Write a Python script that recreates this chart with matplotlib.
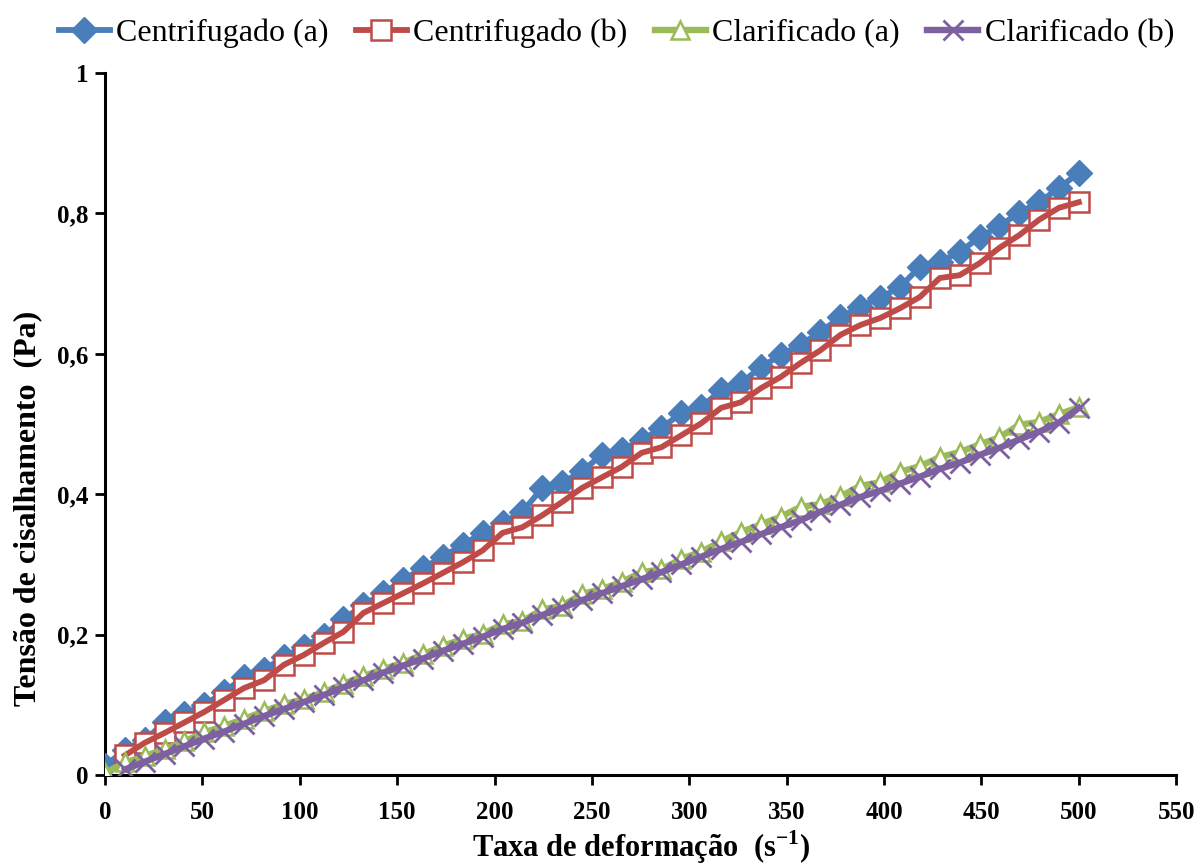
import matplotlib
matplotlib.use("Agg")
import matplotlib.pyplot as plt
from matplotlib.ticker import FuncFormatter

# Shear rate values (s^-1)
x_a = [0.0, 10.2, 20.4, 30.6, 40.8, 51.0, 61.2, 71.4, 81.6, 91.8,
       102.0, 112.2, 122.4, 132.7, 142.9, 153.1, 163.3, 173.5, 183.7, 193.9,
       204.1, 214.3, 224.5, 234.7, 244.9, 255.1, 265.3, 275.5, 285.7, 295.9,
       306.1, 316.3, 326.5, 336.7, 346.9, 357.1, 367.3, 377.6, 387.8, 398.0,
       408.2, 418.4, 428.6, 438.8, 449.0, 459.2, 469.4, 479.6, 489.8, 500.0]
x_b = x_a[1:]

# Shear stress (Pa)
centrifugado_a = [0.013, 0.036, 0.050, 0.075, 0.087, 0.100, 0.118, 0.140, 0.150, 0.168,
                  0.183, 0.198, 0.222, 0.242, 0.259, 0.278, 0.295, 0.311, 0.328, 0.345,
                  0.359, 0.375, 0.409, 0.416, 0.433, 0.456, 0.463, 0.477, 0.494, 0.516,
                  0.524, 0.548, 0.558, 0.581, 0.598, 0.613, 0.631, 0.652, 0.667, 0.680,
                  0.695, 0.724, 0.731, 0.745, 0.766, 0.782, 0.801, 0.816, 0.836, 0.858]
centrifugado_b = [0.028, 0.046, 0.060, 0.075, 0.090, 0.107, 0.124, 0.135, 0.157,
                  0.171, 0.188, 0.204, 0.231, 0.245, 0.259, 0.273, 0.288, 0.303, 0.320,
                  0.345, 0.353, 0.370, 0.389, 0.409, 0.424, 0.439, 0.459, 0.467, 0.484,
                  0.501, 0.523, 0.531, 0.551, 0.567, 0.587, 0.605, 0.627, 0.641, 0.651,
                  0.665, 0.681, 0.708, 0.712, 0.729, 0.751, 0.769, 0.791, 0.808, 0.816]
clarificado_a = [0.003, 0.018, 0.027, 0.037, 0.048, 0.061, 0.070, 0.080, 0.091, 0.101,
                 0.108, 0.118, 0.130, 0.141, 0.151, 0.160, 0.172, 0.184, 0.194, 0.201,
                 0.215, 0.219, 0.236, 0.241, 0.258, 0.265, 0.275, 0.289, 0.293, 0.308,
                 0.318, 0.333, 0.346, 0.357, 0.368, 0.382, 0.386, 0.397, 0.412, 0.417,
                 0.432, 0.440, 0.453, 0.460, 0.471, 0.481, 0.499, 0.503, 0.514, 0.524]
clarificado_b = [0.008, 0.019, 0.030, 0.041, 0.052, 0.062, 0.073, 0.084, 0.094,
                 0.104, 0.114, 0.125, 0.135, 0.146, 0.156, 0.166, 0.177, 0.187, 0.197,
                 0.208, 0.217, 0.228, 0.238, 0.249, 0.259, 0.269, 0.279, 0.289, 0.300,
                 0.311, 0.322, 0.332, 0.343, 0.353, 0.363, 0.375, 0.385, 0.396, 0.405,
                 0.415, 0.425, 0.436, 0.445, 0.456, 0.466, 0.478, 0.489, 0.502, 0.523]

series_names = ["Centrifugado (a)", "Centrifugado (b)", "Clarificado (a)", "Clarificado (b)"]
x_ticks = [0, 50, 100, 150, 200, 250, 300, 350, 400, 450, 500, 550]
y_ticks = [0, 0.2, 0.4, 0.6, 0.8, 1.0]

plt.rcParams['font.family'] = ['Liberation Serif', 'DejaVu Serif']
plt.rcParams['mathtext.fontset'] = 'custom'
plt.rcParams['mathtext.rm'] = 'Liberation Serif'
plt.rcParams['mathtext.bf'] = 'Liberation Serif:bold'

fig = plt.figure(figsize=(11.99, 8.66), dpi=100)
ax = fig.add_axes([0.0876, 0.105, 0.8934, 0.8107])

blue = '#4A7EBB'
red = '#BE4B48'
green = '#9BBB59'
purple = '#7D60A0'

sty_a = dict(color=blue, lw=4.2, marker='D', ms=13, mfc=blue, mec=blue)
sty_b = dict(color=red, lw=4.2, marker='s', ms=15, mfc='white', mec=red, mew=1.8)
sty_c = dict(color=green, lw=4.6, marker='^', ms=13, mfc='white', mec=green, mew=1.8)
sty_d = dict(color=purple, lw=4.6, marker='x', ms=14, mec=purple, mew=2.0)

ax.plot(x_a, centrifugado_a, zorder=3, **sty_a)
ax.plot(x_b, centrifugado_b, color=red, lw=0, marker='s', ms=15,
        mfc='white', mec=red, mew=1.8, zorder=4)
ax.plot(x_b, centrifugado_b, color=red, lw=4.2, zorder=5)
ax.plot(x_a, clarificado_a, zorder=6, **sty_c)
ax.plot(x_b, clarificado_b, zorder=7, **sty_d)

# legend handles
h1, = ax.plot([], [], **sty_a)
h2, = ax.plot([], [], **sty_b)
h3, = ax.plot([], [], **sty_c)
h4, = ax.plot([], [], **sty_d)
fig.legend([h1, h2, h3, h4], series_names, loc='upper center',
           bbox_to_anchor=(0.514, 1.012), ncol=4, frameon=False,
           fontsize=23, handlelength=1.6, handletextpad=0.2, columnspacing=0.85)

ax.set_xlim(0, 550)
ax.set_ylim(0, 1)
ax.set_xticks(x_ticks)
ax.set_yticks(y_ticks)
ax.yaxis.set_major_formatter(FuncFormatter(
    lambda v, p: ('%g' % round(v, 1)).replace('.', ',')))
for lab in ax.get_xticklabels() + ax.get_yticklabels():
    lab.set_fontweight('bold')
ax.tick_params(axis='both', labelsize=18, width=2, length=7, direction='out')
ax.tick_params(axis='x', pad=12)
ax.tick_params(axis='y', pad=5)
for s in ['top', 'right']:
    ax.spines[s].set_visible(False)
for s in ['left', 'bottom']:
    ax.spines[s].set_linewidth(2.2)

ax.set_xlabel('Taxa de deformação  (s$^{\\mathbf{-1}}$)', fontsize=22, fontweight='bold')
ax.xaxis.set_label_coords(0.5, -0.076)
ax.set_ylabel('Tensão de cisalhamento  (Pa)', fontsize=23, fontweight='bold')
ax.yaxis.set_label_coords(-0.059, 0.38)

fig.savefig('out.png', dpi=100)
